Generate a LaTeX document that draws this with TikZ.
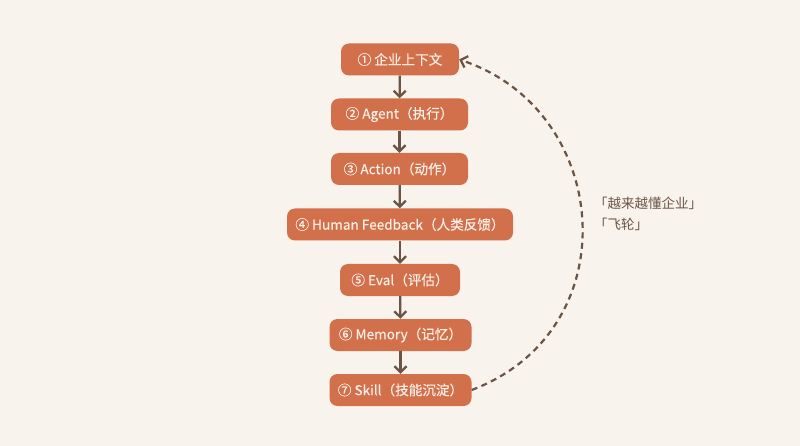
\documentclass[tikz,border=0pt]{standalone}
\usepackage{fontspec}
\setmainfont{Noto Sans CJK SC}
\newfontfamily\boxfont[FakeBold=0.3]{Noto Sans CJK SC}
\usetikzlibrary{arrows.meta}
\definecolor{bgc}{HTML}{F8F3EC}
\definecolor{boxc}{HTML}{D2704C}
\definecolor{boxt}{HTML}{FAF0E8}
\definecolor{linec}{HTML}{6B5444}
\tikzset{
  stepbox/.style={draw=none, fill=boxc, rounded corners=8pt, text=boxt,
    minimum height=32pt, inner xsep=0pt, font=\boxfont\fontsize{13.6pt}{16pt}\selectfont},
  flow/.style={draw=linec, line width=2.3pt, -{Straight Barb[length=6pt,width=12pt,line width=2.3pt]}},
  loopline/.style={draw=linec, line width=2.2pt, dash pattern=on 6pt off 4.5pt,
    -{Straight Barb[length=6pt,width=12pt,line width=2.2pt]}},
  lbl/.style={text=linec, anchor=west, inner sep=0pt, font=\fontsize{13.5pt}{16pt}\selectfont}
}
\begin{document}
\begin{tikzpicture}[x=1pt,y=-1pt]
\fill[bgc] (0,0) rectangle (800,446);
\useasboundingbox (0,0) rectangle (800,446);
\node[stepbox, minimum width=118pt] (n1) at (400,59.5) {① 企业上下文};
\node[stepbox, minimum width=137pt] (n2) at (399.5,114.5) {② Agent（执行）};
\node[stepbox, minimum width=137pt] (n3) at (399.5,169) {③ Action（动作）};
\node[stepbox, minimum width=226pt] (n4) at (400,224.5) {④ Human Feedback（人类反馈）};
\node[stepbox, minimum width=120pt] (n5) at (400,280) {⑤ Eval（评估）};
\node[stepbox, minimum width=142pt] (n6) at (400.5,335) {⑥ Memory（记忆）};
\node[stepbox, minimum width=142pt] (n7) at (400.5,390) {⑦ Skill（技能沉淀）};
\draw[flow] (n1) -- (n2);
\draw[flow] (n2) -- (n3);
\draw[flow] (n3) -- (n4);
\draw[flow] (n4) -- (n5);
\draw[flow] (n5) -- (n6);
\draw[flow] (n6) -- (n7);
\coordinate (s) at (n7.east);
\coordinate (e) at (n1.east);
\draw[loopline] (s) .. controls (630,330) and (612,110) .. (e);
\node[lbl] (t1) at (594,203) {「越来越懂企业」};
\node[lbl] (t2) at (594,224) {「飞轮」};
\end{tikzpicture}
\end{document}
